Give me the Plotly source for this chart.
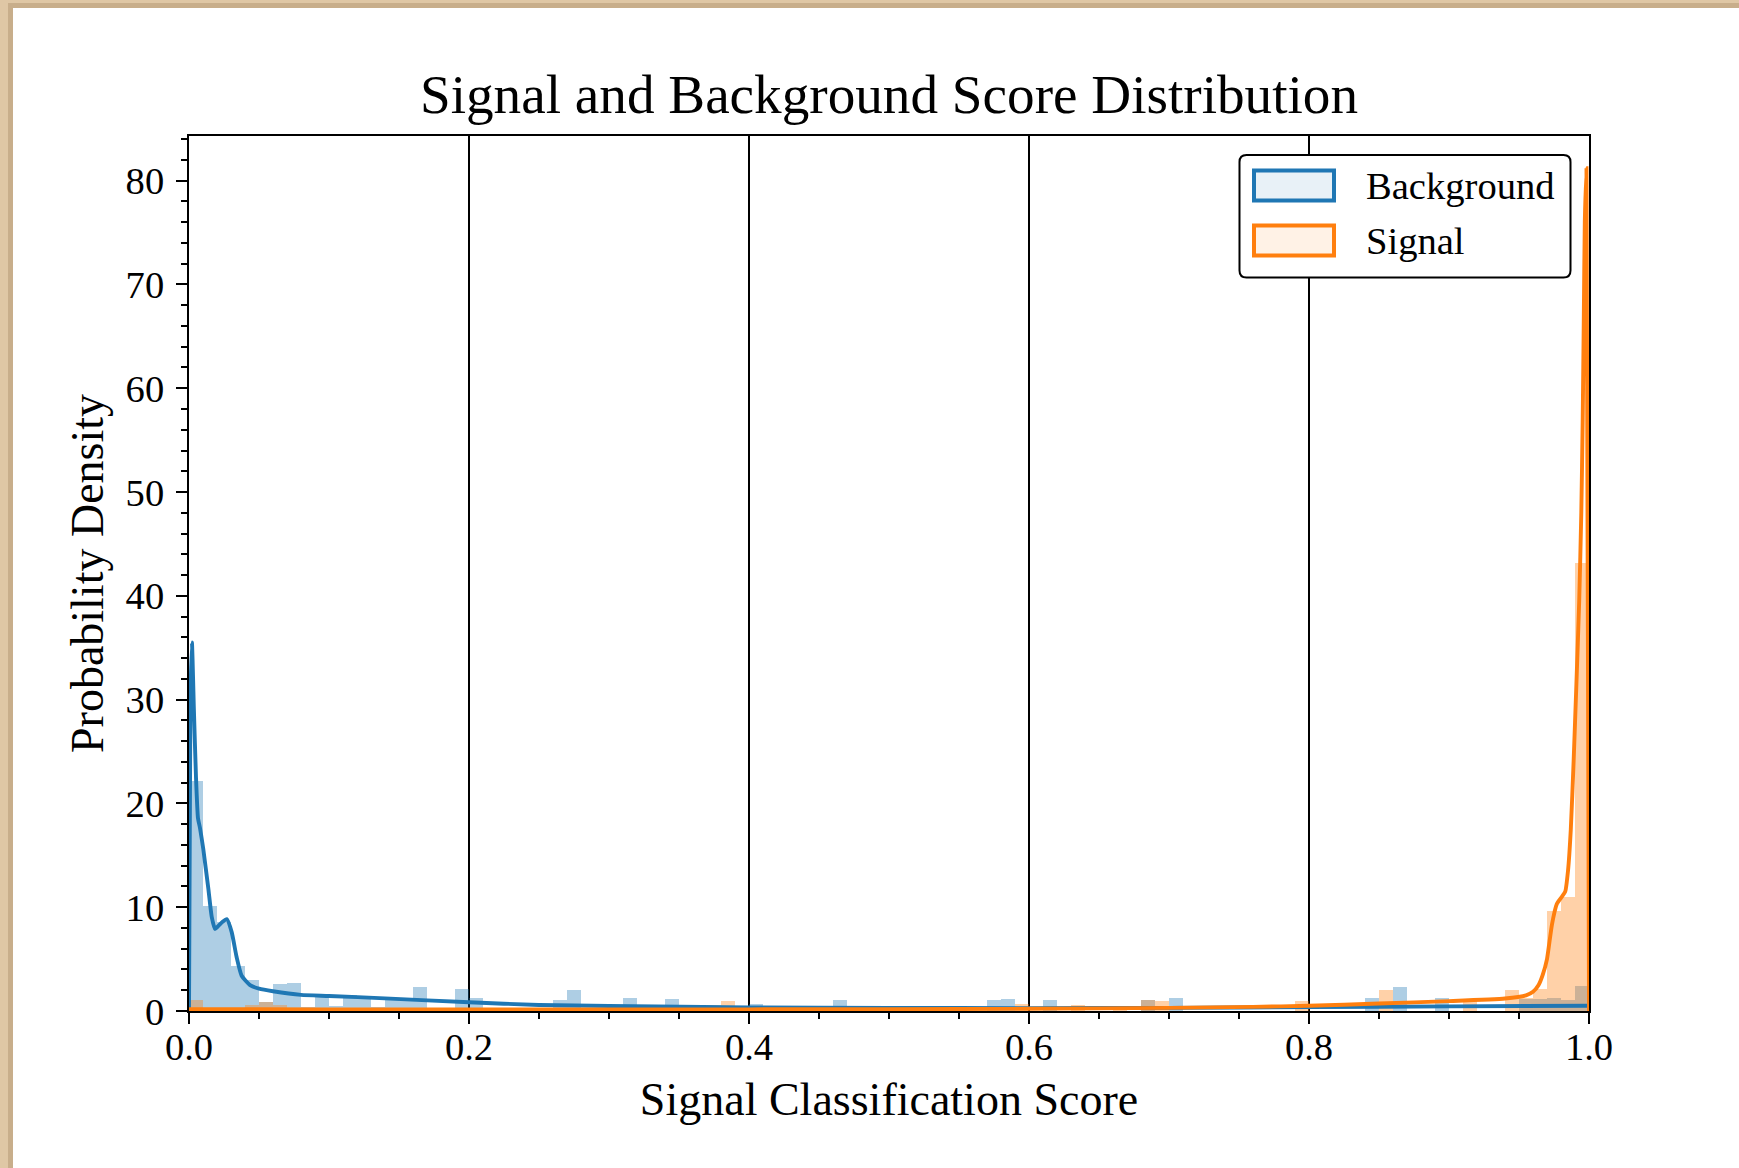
import numpy as np
import plotly.graph_objects as go

# ---------------- data ----------------
BIN_WIDTH = 0.01

# Background histogram (density) per 0.01 bin, 0.00 .. 0.99
bg_density = [
    22.2, 10.1, 8.6, 4.3, 3.0, 0.9, 2.6, 2.7, 0.4, 1.4,
    0.5, 1.5, 1.45, 0.4, 1.1, 1.0, 2.3, 0.3, 0.3, 2.1,
    1.3, 0, 0, 0, 0, 0.3, 1.1, 2.0, 0, 0,
    0, 1.3, 0, 0, 1.2, 0, 0, 0, 0, 0,
    0.7, 0, 0, 0, 0, 0, 1.1, 0, 0, 0,
    0, 0, 0, 0, 0, 0, 0, 1.1, 1.2, 0,
    0, 1.1, 0, 0, 0, 0, 0, 0, 1.1, 0,
    1.25, 0, 0, 0, 0, 0, 0, 0, 0, 0,
    0, 0, 0, 0, 1.3, 0, 2.35, 0, 0, 1.3,
    0, 0, 0, 0, 0, 1.2, 1.2, 1.3, 1.1, 2.4,
]

# Signal histogram (density) per 0.01 bin
sig_density = [
    1.06, 0, 0, 0, 0.6, 0.9, 0.6, 0, 0, 0,
    0, 0, 0, 0, 0, 0, 0, 0, 0, 0,
    0, 0, 0, 0, 0, 0, 0, 0, 0, 0,
    0, 0, 0, 0, 0, 0.6, 0, 0.6, 1.0, 0,
    0, 0, 0, 0, 0, 0, 0, 0, 0, 0,
    0, 0, 0, 0, 0, 0, 0, 0, 0, 0.7,
    0, 0, 0, 0.55, 0, 0, 0.5, 0, 1.1, 1.0,
    0, 0, 0, 0, 0, 0, 0, 0, 0, 0.96,
    0, 0, 0, 0, 0, 2.0, 0, 0, 0, 0,
    0, 1.0, 0, 0, 2.0, 1.3, 2.1, 9.6, 11.0, 43.2,
]

# KDE curves
bg_kde_x = [0.0, 0.001, 0.0021, 0.0035, 0.0050, 0.0064, 0.0079, 0.0102, 0.0138,
            0.0162, 0.0186, 0.021, 0.024, 0.027, 0.0305, 0.034, 0.0376, 0.0436,
            0.05, 0.06, 0.08, 0.10, 0.14, 0.20, 0.25, 0.30, 0.40, 0.50, 0.60,
            0.70, 0.80, 0.90, 1.0]
bg_kde_y = [0.0, 30.0, 35.5, 29.0, 22.5, 18.6, 17.6, 15.6, 11.8,
            9.1, 7.9, 8.2, 8.6, 8.85, 7.6, 5.2, 3.4, 2.5,
            2.15, 1.9, 1.55, 1.45, 1.22, 0.84, 0.58, 0.48, 0.35, 0.30, 0.28,
            0.30, 0.38, 0.45, 0.50]

sig_kde_x = [0.0, 0.1, 0.2, 0.3, 0.4, 0.5, 0.6, 0.7, 0.76, 0.8, 0.85, 0.9,
             0.94, 0.955, 0.96, 0.964, 0.967, 0.970, 0.9735, 0.977, 0.980,
             0.983, 0.985, 0.987, 0.989, 0.991, 0.993, 0.9945, 0.9955, 0.9963,
             0.997, 0.9982, 1.0]
sig_kde_y = [0.18, 0.15, 0.14, 0.14, 0.16, 0.18, 0.21, 0.30, 0.40, 0.50, 0.72, 0.95,
             1.2, 1.5, 1.85, 2.5, 3.5, 5.0, 8.3, 10.3, 10.9,
             11.5, 13.5, 17.5, 24.0, 31.5, 39.5, 48.0, 57.0, 67.0,
             76.0, 81.2, 0.0]

x_tick_vals = [0.0, 0.2, 0.4, 0.6, 0.8, 1.0]
y_tick_vals = [0, 10, 20, 30, 40, 50, 60, 70, 80]
series_names = ["Background", "Signal"]

# ---------------- styling ----------------
BLUE = "#1f77b4"
ORANGE = "#ff7f0e"
FONT = "Liberation Serif, Times New Roman, serif"
W, H = 1739, 1168
L, T, PW, PH = 189, 136, 1400, 875


def px2x(p):
    return (p - L) / PW


def py2y(p):
    return (T + PH - p) / PH


n = len(bg_density)
centers = (np.arange(n) + 0.5) * BIN_WIDTH

fig = go.Figure()
fig.add_trace(go.Bar(x=centers, y=bg_density, width=BIN_WIDTH,
                     marker=dict(color="rgba(31,119,180,0.36)", line=dict(width=0)),
                     name=series_names[0], showlegend=False, hoverinfo="skip"))
fig.add_trace(go.Bar(x=centers, y=sig_density, width=BIN_WIDTH,
                     marker=dict(color="rgba(255,127,14,0.36)", line=dict(width=0)),
                     name=series_names[1], showlegend=False, hoverinfo="skip"))
fig.add_trace(go.Scatter(x=bg_kde_x, y=bg_kde_y, mode="lines",
                         line=dict(color=BLUE, width=3.9, shape="spline", smoothing=0.5),
                         showlegend=False, name=series_names[0] + " KDE"))
fig.add_trace(go.Scatter(x=sig_kde_x, y=sig_kde_y, mode="lines",
                         line=dict(color=ORANGE, width=3.9, shape="spline", smoothing=0.5),
                         showlegend=False, name=series_names[1] + " KDE"))

shapes = []
# parchment card shadow + white card
shapes.append(dict(type="rect", xref="paper", yref="paper", layer="below",
                   x0=px2x(8), x1=px2x(W + 20), y0=py2y(H + 20), y1=py2y(3),
                   fillcolor="rgba(150,115,80,0.30)", line=dict(width=0)))
shapes.append(dict(type="rect", xref="paper", yref="paper", layer="below",
                   x0=px2x(13), x1=px2x(W + 20), y0=py2y(H + 20), y1=py2y(8),
                   fillcolor="white", line=dict(width=0)))

# custom legend
lx0, lx1, ly0, ly1, r = 1239.5, 1570.5, 155.0, 277.5, 7.0


def rounded_path(x0, x1, y0, y1, r):
    pts = [
        ("M", (x0 + r, y0)), ("L", (x1 - r, y0)), ("Q", (x1, y0), (x1, y0 + r)),
        ("L", (x1, y1 - r)), ("Q", (x1, y1), (x1 - r, y1)), ("L", (x0 + r, y1)),
        ("Q", (x0, y1), (x0, y1 - r)), ("L", (x0, y0 + r)), ("Q", (x0, y0), (x0 + r, y0)),
    ]
    s = ""
    for item in pts:
        cmd = item[0]
        coords = " ".join(f"{px2x(px):.6f},{py2y(py):.6f}" for px, py in item[1:])
        s += f"{cmd}{coords} "
    return s + "Z"


shapes.append(dict(type="path", xref="paper", yref="paper", layer="above",
                   path=rounded_path(lx0, lx1, ly0, ly1, r),
                   fillcolor="white", line=dict(color="black", width=2)))
patch_specs = [(170.5, 200.5, "rgba(31,119,180,0.10)", BLUE),
               (225.5, 255.5, "rgba(255,127,14,0.10)", ORANGE)]
for (y0p, y1p, fc, lc) in patch_specs:
    shapes.append(dict(type="rect", xref="paper", yref="paper", layer="above",
                       x0=px2x(1254), x1=px2x(1334), y0=py2y(y1p), y1=py2y(y0p),
                       fillcolor=fc, line=dict(color=lc, width=4)))

annotations = [
    dict(text="Signal and Background Score Distribution", xref="paper", yref="paper",
         x=0.5, y=py2y(95), xanchor="center", yanchor="middle", showarrow=False,
         font=dict(family=FONT, size=55.2, color="black")),
    dict(text=series_names[0], xref="paper", yref="paper", x=px2x(1364), y=py2y(185.5),
         xanchor="left", yanchor="middle", showarrow=False,
         font=dict(family=FONT, size=38.6, color="black")),
    dict(text=series_names[1], xref="paper", yref="paper", x=px2x(1364), y=py2y(240.5),
         xanchor="left", yanchor="middle", showarrow=False,
         font=dict(family=FONT, size=38.6, color="black")),
]

axis_common = dict(showline=True, linecolor="black", linewidth=2.2, mirror=True,
                   ticks="outside", ticklen=11, tickwidth=2, tickcolor="black",
                   zeroline=False,
                   tickfont=dict(family=FONT, size=38.6, color="black"))

fig.update_layout(
    width=W, height=H,
    margin=dict(l=L, r=W - L - PW, t=T, b=H - T - PH),
    paper_bgcolor="#dfc7a5",
    plot_bgcolor="white",
    barmode="overlay", bargap=0,
    shapes=shapes, annotations=annotations,
    showlegend=False,
    xaxis=dict(range=[0, 1], tickvals=x_tick_vals, tickformat=".1f",
               showgrid=True, gridcolor="black", gridwidth=2,
               ticklabelstandoff=-10,
               minor=dict(ticks="outside", ticklen=5.5, tickwidth=1.6, tickcolor="black",
                          dtick=0.05, showgrid=False),
               title=dict(text="Signal Classification Score", standoff=15,
                          font=dict(family=FONT, size=46, color="black")),
               **axis_common),
    yaxis=dict(range=[0, 84.3], tickvals=y_tick_vals, showgrid=False,
               ticklabelstandoff=4,
               minor=dict(ticks="outside", ticklen=5.5, tickwidth=1.6, tickcolor="black",
                          dtick=2, showgrid=False),
               title=dict(text="Probability Density", standoff=8,
                          font=dict(family=FONT, size=46, color="black")),
               **axis_common),
)

fig.write_html("out.html")
